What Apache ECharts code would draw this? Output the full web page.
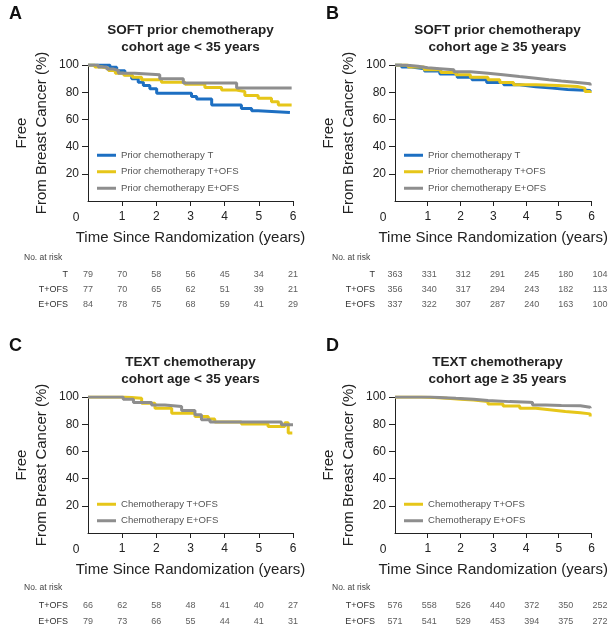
<!DOCTYPE html>
<html><head><meta charset="utf-8">
<script src="https://cdn.jsdelivr.net/npm/echarts@6/dist/echarts.min.js"></script>
<style>html,body{margin:0;padding:0;background:#fff}#c{width:610px;height:632px}</style>
</head><body><div id="c"></div>
<script>
// ---------- data ----------
const timeTicks = [0, 1, 2, 3, 4, 5, 6];
const xTickValues = [1, 2, 3, 4, 5, 6];
const yTickValues = [20, 40, 60, 80, 100];
const panelLetters = ['A', 'B', 'C', 'D'];
const panelTitles = [
  'SOFT prior chemotherapy\ncohort age < 35 years',
  'SOFT prior chemotherapy\ncohort age \u2265 35 years',
  'TEXT chemotherapy\ncohort age < 35 years',
  'TEXT chemotherapy\ncohort age \u2265 35 years'
];
const yAxisName = 'Free\nFrom Breast Cancer (%)';
const xAxisName = 'Time Since Randomization (years)';
const riskTitle = 'No. at risk';
const originLabel = '0';

const namesSOFT = ['Prior chemotherapy T', 'Prior chemotherapy T+OFS', 'Prior chemotherapy E+OFS'];
const namesTEXT = ['Chemotherapy T+OFS', 'Chemotherapy E+OFS'];
const rowsSOFT = ['T', 'T+OFS', 'E+OFS'];
const rowsTEXT = ['T+OFS', 'E+OFS'];

// Panel A: SOFT prior chemo, age < 35
const A_T = [[0,100],[0.64,98.3],[0.84,95.8],[1.08,92.8],[1.28,89.9],[1.47,87.4],[1.62,85],[1.81,82.5],[2.01,79.3],[3.03,76.8],[3.18,75],[3.62,70.6],[4.49,68.1],[4.79,66.4],[4.98,65],[5.91,65]];
const A_TOFS = [[0,100],[0.2,98.5],[0.4,97.5],[0.6,96],[0.8,94],[1.05,92.5],[1.3,91],[1.57,89.1],[2.15,87.4],[2.84,85.9],[3.42,83.5],[3.91,81.7],[4.3,80.5],[4.59,77.5],[4.98,75.6],[5.37,73],[5.57,70.6],[5.96,70.6]];
const A_EOFS = [[0,100],[0.3,98.5],[0.55,97],[0.75,96],[0.89,94],[1.37,92.8],[2.1,89.9],[2.79,86.7],[4.35,83],[5.96,83]];
// Panel B: SOFT prior chemo, age >= 35
const B_T = [[0,100],[0.2,98.5],[0.5,97.3],[0.9,95.5],[1.37,93.3],[1.9,91],[2.35,89.1],[2.8,87.2],[3.32,85.4],[3.8,84],[4.3,83],[4.8,82],[5.27,81.2],[5.96,80.5]];
const B_TOFS = [[0,100],[0.4,98.5],[0.89,96.5],[1.4,94.5],[1.86,92.8],[2.3,91],[2.84,89.1],[3.2,87.2],[3.62,85.4],[4.3,85],[4.98,84.2],[5.57,83],[5.8,80.5],[5.96,79.5]];
const B_EOFS = [[0,100],[0.3,99],[0.7,98],[1.0,97.3],[1.37,96.5],[1.8,95],[2.3,94],[2.84,92.8],[3.3,91.5],[3.8,90.3],[4.3,89.1],[4.7,88.2],[5.08,87.4],[5.5,86.2],[5.96,85]];
// Panel C: TEXT chemo, age < 35
const C_TOFS = [[0,100],[1.08,99],[1.57,95.4],[1.96,91.8],[2.45,88.1],[3.13,85.7],[3.52,83.8],[3.71,81.6],[4.49,80.1],[5.27,78.4],[5.76,81],[5.86,73.6],[5.98,73.6]];
const C_EOFS = [[0,100],[1.03,98.3],[1.33,95.9],[1.86,94.2],[2.25,93],[2.74,90],[3.13,86.9],[3.32,83.3],[3.57,81.6],[5.66,79.6],[6.0,79.6]];
// Panel D: TEXT chemo, age >= 35
const D_TOFS = [[0,100],[0.8,99.7],[1.2,99],[1.6,98.4],[2.0,97.8],[2.4,96.6],[2.84,94.9],[3.3,93.3],[3.81,91.8],[4.3,90.5],[4.79,89.3],[5.2,88.5],[5.66,87.6],[5.96,85.7]];
const D_EOFS = [[0,100],[1.08,99.5],[1.5,99],[1.86,98.3],[2.4,97.4],[2.84,96.6],[3.5,96.2],[4.1,95.9],[4.2,94.2],[4.6,93.8],[5.08,93.5],[5.66,92.5],[5.96,91.8]];

// Numbers at risk
const A_riskT = [79, 70, 58, 56, 45, 34, 21];
const A_riskTOFS = [77, 70, 65, 62, 51, 39, 21];
const A_riskEOFS = [84, 78, 75, 68, 59, 41, 29];
const B_riskT = [363, 331, 312, 291, 245, 180, 104];
const B_riskTOFS = [356, 340, 317, 294, 243, 182, 113];
const B_riskEOFS = [337, 322, 307, 287, 240, 163, 100];
const C_riskTOFS = [66, 62, 58, 48, 41, 40, 27];
const C_riskEOFS = [79, 73, 66, 55, 44, 41, 31];
const D_riskTOFS = [576, 558, 526, 440, 372, 350, 252];
const D_riskEOFS = [571, 541, 529, 453, 394, 375, 272];

// ---------- styling / layout ----------
const REG = '"Liberation Sans",Arial,sans-serif';
const COL = { T: '#1d6fc2', TOFS: '#e6c619', EOFS: '#8e8e8e' };
const W = 205, H = 136;
const geo = [{ l: 88, t: 65 }, { l: 395, t: 65 }, { l: 88, t: 397 }, { l: 395, t: 397 }];

const panels = [
  { curves: [A_T, A_TOFS, A_EOFS], names: namesSOFT, cols: [COL.T, COL.TOFS, COL.EOFS], rows: rowsSOFT, risk: [A_riskT, A_riskTOFS, A_riskEOFS] },
  { curves: [B_T, B_TOFS, B_EOFS], names: namesSOFT, cols: [COL.T, COL.TOFS, COL.EOFS], rows: rowsSOFT, risk: [B_riskT, B_riskTOFS, B_riskEOFS] },
  { curves: [C_TOFS, C_EOFS], names: namesTEXT, cols: [COL.TOFS, COL.EOFS], rows: rowsTEXT, risk: [C_riskTOFS, C_riskEOFS] },
  { curves: [D_TOFS, D_EOFS], names: namesTEXT, cols: [COL.TOFS, COL.EOFS], rows: rowsTEXT, risk: [D_riskTOFS, D_riskEOFS] }
];

const grid = [], xAxis = [], yAxis = [], series = [], legend = [], title = [], graphic = [];
const axisCol = '#222';

panels.forEach((p, i) => {
  const g = geo[i];
  const nRows = p.rows.length;
  const rowH = nRows === 3 ? 15 : 16.7;
  const tabTop = nRows === 3 ? g.t + 202.5 : g.t + 199.7;
  grid[i] = { left: g.l, top: g.t, width: W, height: H };
  grid[i + 4] = { left: g.l, top: tabTop, width: W, height: rowH * nRows };

  xAxis[i] = {
    type: 'value', gridIndex: i, min: 0, max: 6, interval: 1,
    axisLine: { lineStyle: { color: axisCol, width: 1 } },
    axisTick: { show: true, customValues: xTickValues, length: 5, lineStyle: { color: axisCol } },
    axisLabel: { customValues: xTickValues, margin: 10, fontSize: 12, color: axisCol, fontFamily: REG },
    splitLine: { show: false },
    name: xAxisName, nameLocation: 'middle', nameGap: 29,
    nameTextStyle: { fontSize: 15, fontFamily: REG, color: axisCol }
  };
  yAxis[i] = {
    type: 'value', gridIndex: i, min: 0, max: 100, interval: 20,
    axisLine: { show: true, lineStyle: { color: axisCol, width: 1 } },
    axisTick: { show: true, customValues: yTickValues, length: 6, lineStyle: { color: axisCol } },
    axisLabel: { customValues: yTickValues, margin: 9, fontSize: 12, color: axisCol, fontFamily: REG },
    splitLine: { show: false },
    name: yAxisName, nameLocation: 'middle', nameRotate: 90, nameGap: 36,
    nameTextStyle: { fontSize: 15, lineHeight: 20, fontFamily: REG, color: axisCol }
  };
  xAxis[i + 4] = { type: 'value', gridIndex: i + 4, min: 0, max: 6, interval: 1, show: false };
  yAxis[i + 4] = {
    type: 'category', gridIndex: i + 4, data: p.rows, inverse: true,
    axisLine: { show: false }, axisTick: { show: false }, splitLine: { show: false },
    axisLabel: { margin: 20, fontSize: 9, color: '#333', fontFamily: REG }
  };

  p.curves.forEach((c, k) => {
    series.push({
      type: 'line', name: p.names[k], xAxisIndex: i, yAxisIndex: i, data: c,
      step: 'end', showSymbol: false, symbol: 'none', silent: true,
      lineStyle: { color: p.cols[k], width: 3 }, itemStyle: { color: p.cols[k] },
      z: 2 + k
    });
  });
  p.rows.forEach((r, k) => {
    series.push({
      type: 'scatter', xAxisIndex: i + 4, yAxisIndex: i + 4, silent: true,
      symbolSize: 1, itemStyle: { color: 'rgba(0,0,0,0)' },
      data: timeTicks.map((t, j) => [t, r, p.risk[k][j]]),
      label: { show: true, position: 'inside', formatter: d => String(d.value[2]), fontSize: 9, color: '#333', fontFamily: REG }
    });
  });

  legend.push({
    data: p.names, orient: 'vertical', left: g.l + 9,
    top: nRows === 3 ? g.t + 84 : g.t + 101,
    itemWidth: 19, itemHeight: 3, itemGap: 4, icon: 'rect', padding: 0,
    selectedMode: false,
    textStyle: { fontSize: 9.6, lineHeight: 12.5, color: '#555', fontFamily: REG }
  });

  title.push({
    text: panelLetters[i], left: (i % 2 === 0) ? 9 : 326, top: g.t - 60, padding: 0,
    textStyle: { fontSize: 18, fontWeight: 'bold', color: '#111', fontFamily: REG }
  });
  title.push({
    text: panelTitles[i], left: g.l + W / 2, textAlign: 'center', top: g.t - 43.5, padding: 0,
    textStyle: { fontSize: 13.5, lineHeight: 17, fontWeight: 'bold', color: '#222', fontFamily: REG }
  });
  title.push({
    text: riskTitle, left: (i % 2 === 0) ? 24 : 332, top: nRows === 3 ? g.t + 188 : g.t + 186, padding: 0,
    textStyle: { fontSize: 8.5, fontWeight: 'normal', color: '#444', fontFamily: REG }
  });
  graphic.push({
    type: 'text', x: g.l - 12, y: g.t + H + 17, silent: true,
    style: { text: originLabel, align: 'center', verticalAlign: 'middle', fontSize: 12, fill: axisCol, fontFamily: REG }
  });
});

const chart = echarts.init(document.getElementById('c'), null, { renderer: 'canvas' });
chart.setOption({
  animation: false, backgroundColor: '#fff',
  title, legend, grid, xAxis, yAxis, series, graphic
});
</script></body></html>
